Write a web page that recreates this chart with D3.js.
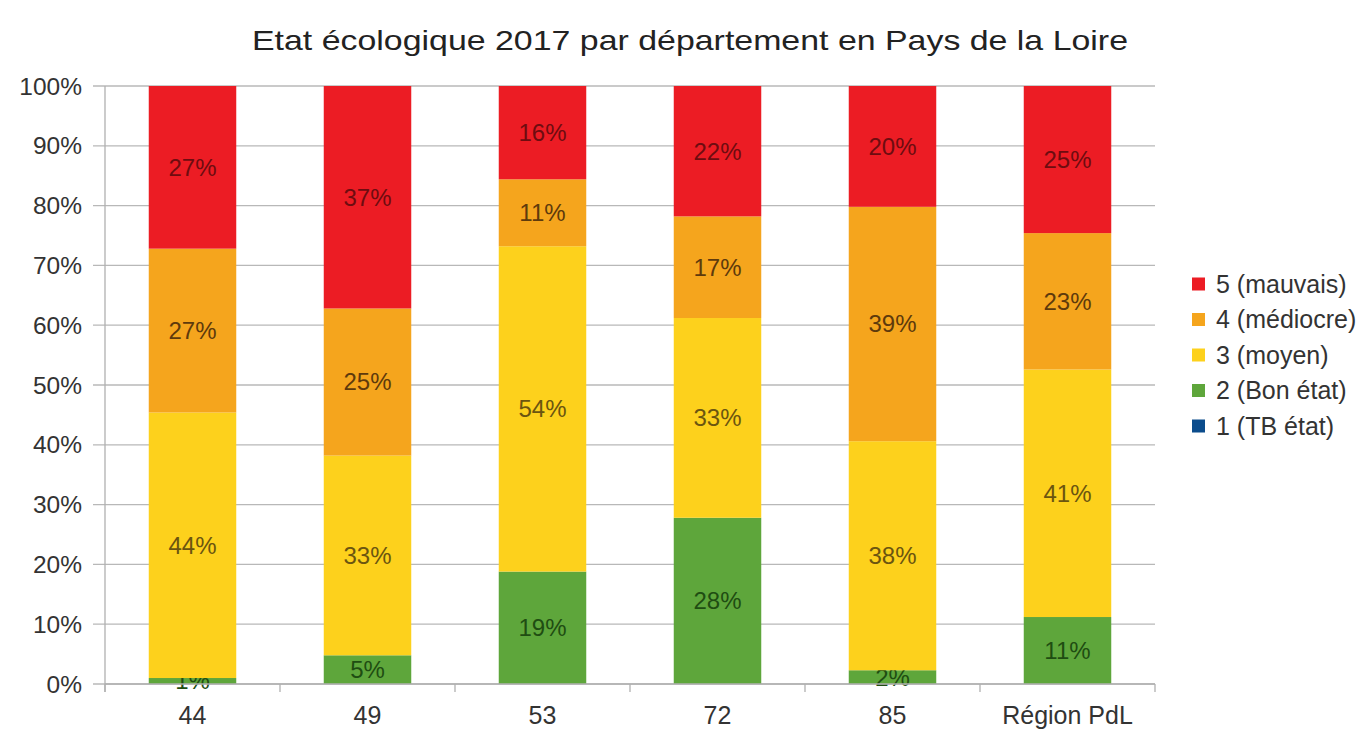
<!DOCTYPE html>
<html>
<head>
<meta charset="utf-8">
<script src="https://cdn.jsdelivr.net/npm/d3@7"></script>
<style>
  body { margin: 0; background: #fff; }
  svg { display: block; font-family: "Liberation Sans", Arial, sans-serif; }
</style>
</head>
<body>
<svg id="main-svg" width="1367" height="732"></svg>
<script>
// categories and series (percent shares)
var departements = ["44", "49", "53", "72", "85", "Région PdL"];
var classes = ["1 (TB état)", "2 (Bon état)", "3 (moyen)", "4 (médiocre)", "5 (mauvais)"];
var tbEtat   = [0, 0, 0, 0, 0, 0];
var bonEtat  = [1.0, 4.8, 18.8, 27.8, 2.3, 11.2];
var moyen    = [44.4, 33.4, 54.4, 33.4, 38.3, 41.4];
var mediocre = [27.4, 24.6, 11.2, 17.0, 39.2, 22.8];
var mauvais  = [27.2, 37.2, 15.6, 21.8, 20.2, 24.6];
var yTicks = [0, 10, 20, 30, 40, 50, 60, 70, 80, 90, 100];

var colors = ["#0b4c8c", "#5ea63b", "#fdd11c", "#f5a51d", "#ec1c24"];
var labelColors = ["#0a2a50", "#1f4d12", "#6b5510", "#5e3a0c", "#6e0c10"];

var svg = d3.select("#main-svg");
var margin = { left: 105, right: 212, top: 86, bottom: 48 };
var width = 1367 - margin.left - margin.right;   // 1050
var height = 732 - margin.top - margin.bottom;   // 598

var g = svg.append("g").attr("transform", "translate(" + margin.left + "," + margin.top + ")");

// title (the picture's title is drawn wider than the font's natural width)
svg.append("text")
    .attr("x", 252).attr("y", 50)
    .attr("textLength", 876)
    .attr("lengthAdjust", "spacingAndGlyphs")
    .attr("fill", "#222")
    .style("font-size", "28px")
    .text("Etat écologique 2017 par département en Pays de la Loire");

var x = d3.scaleBand().domain(departements).range([0, width]).paddingInner(0.5).paddingOuter(0.25);
var xBoundary = d3.scaleLinear().domain([0, departements.length]).range([0, width]);
var y = d3.scaleLinear().domain([0, 100]).range([height, 0]);

// gridlines
g.selectAll(".grid").data(yTicks).enter().append("line")
    .attr("x1", -12).attr("x2", width)
    .attr("y1", d => y(d)).attr("y2", d => y(d))
    .attr("stroke", "#b8b8b8").attr("stroke-width", 1.3);

// y axis labels
g.selectAll(".ylab").data(yTicks).enter().append("text")
    .attr("x", -23).attr("y", d => y(d))
    .attr("dy", "0.35em")
    .attr("text-anchor", "end")
    .attr("fill", "#333")
    .style("font-size", "24.5px")
    .text(d => d + "%");

// stacked data
var rows = departements.map((d, i) => ({
    dep: d,
    "1 (TB état)": tbEtat[i],
    "2 (Bon état)": bonEtat[i],
    "3 (moyen)": moyen[i],
    "4 (médiocre)": mediocre[i],
    "5 (mauvais)": mauvais[i]
}));
var stack = d3.stack().keys(classes)(rows);

stack.forEach(function(layer, k) {
    var lg = g.append("g");
    lg.selectAll("rect").data(layer).enter().append("rect")
        .attr("x", d => x(d.data.dep))
        .attr("width", x.bandwidth())
        .attr("y", d => y(d[1]))
        .attr("height", d => y(d[0]) - y(d[1]))
        .attr("fill", colors[k]);
    lg.selectAll("text").data(layer.filter(d => d[1] - d[0] > 0)).enter().append("text")
        .attr("x", d => x(d.data.dep) + x.bandwidth() / 2)
        .attr("y", d => (y(d[0]) + y(d[1])) / 2)
        .attr("dy", "0.35em")
        .attr("text-anchor", "middle")
        .attr("fill", labelColors[k])
        .style("font-size", "24px")
        .text(d => Math.round(d[1] - d[0]) + "%");
});

// axes lines
g.append("line").attr("x1", 0).attr("x2", 0).attr("y1", 0).attr("y2", height + 8)
    .attr("stroke", "#b0b0b0").attr("stroke-width", 1.3);
g.append("line").attr("x1", 0).attr("x2", width).attr("y1", height).attr("y2", height)
    .attr("stroke", "#b0b0b0").attr("stroke-width", 1.3);
g.selectAll(".xtick").data(d3.range(departements.length + 1)).enter().append("line")
    .attr("x1", d => xBoundary(d)).attr("x2", d => xBoundary(d))
    .attr("y1", height).attr("y2", height + 8)
    .attr("stroke", "#b0b0b0").attr("stroke-width", 1.3);

// x labels
g.selectAll(".xlab").data(departements).enter().append("text")
    .attr("x", d => x(d) + x.bandwidth() / 2)
    .attr("y", height + 40)
    .attr("text-anchor", "middle")
    .attr("fill", "#333")
    .style("font-size", "25px")
    .text(d => d);

// legend
var legend = svg.append("g").attr("transform", "translate(1192, 284)");
classes.slice().reverse().forEach(function(c, i) {
    var k = classes.indexOf(c);
    var row = legend.append("g").attr("transform", "translate(0," + (i * 35.5) + ")");
    row.append("rect").attr("x", 0).attr("y", -6.5).attr("width", 13).attr("height", 13)
        .attr("fill", colors[k]);
    row.append("text").attr("x", 24).attr("y", 0).attr("dy", "0.35em")
        .attr("fill", "#333")
        .style("font-size", "25px")
        .text(c);
});
</script>
</body>
</html>
